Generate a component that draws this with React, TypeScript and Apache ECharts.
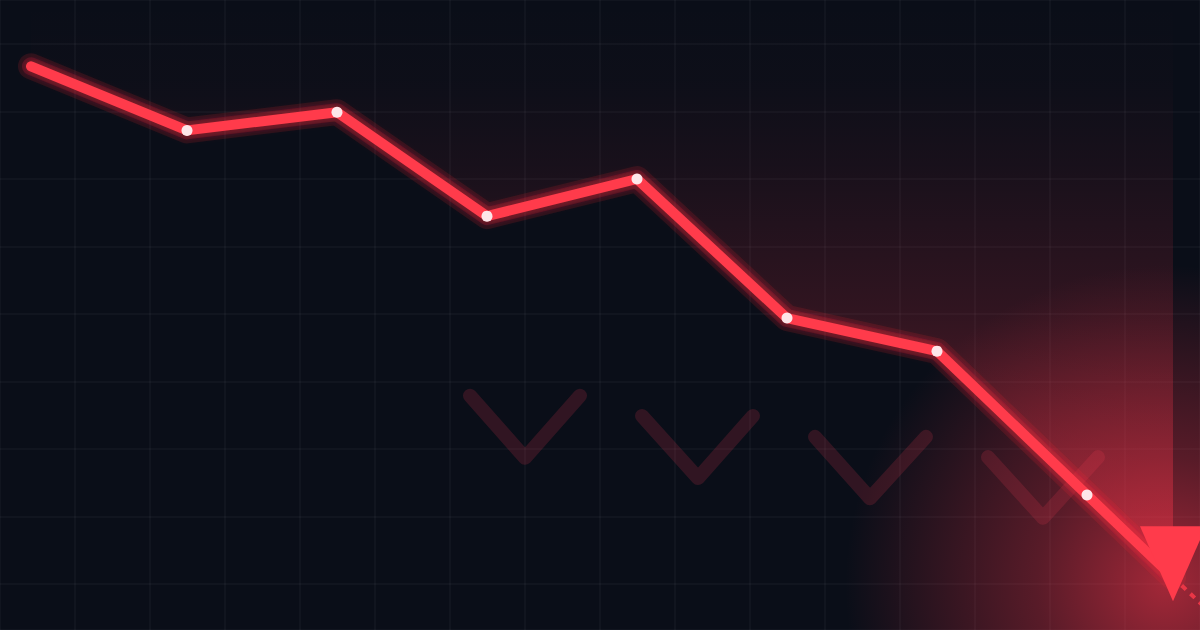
import React, { useEffect, useRef } from "react";
import * as echarts from "echarts";

// Data (x on a 0–1200 horizontal scale, y on a vertical value scale)
const lineX = [31, 187, 337, 487, 637, 787, 937, 1087, 1173];
const lineY = [86.7, 77.2, 79.9, 64.5, 70.0, 49.4, 44.5, 23.2, 11.0];
const arrowX = [1173];
const arrowY = [13.0];
const tailX = [1173, 1215];
const tailY = [11.0, 5.1];
const chevronX = [
  [470, 525, 580],
  [642, 698, 753],
  [815, 870, 926],
  [988, 1043, 1098],
];
const chevronY = [
  [37.9, 28.7, 37.9],
  [34.9, 25.7, 34.9],
  [31.8, 22.7, 31.8],
  [28.8, 19.8, 28.8],
];
const yMin = 3.185;
const yMax = 96.52;

const RED = "#ff3b4b";

export default function App() {
  const ref = useRef<HTMLDivElement>(null);
  useEffect(() => {
    document.body.style.margin = "0";
    document.body.style.background = "#0a0e18";
    const chart = echarts.init(ref.current!, null, { renderer: "svg" });
    const pts = lineX.map((x, i) => [x, lineY[i]]);
    const dots = pts.slice(1, 8);
    const chevronSeries = chevronX.map((xs, k) => ({
      type: "line",
      z: 2,
      silent: true,
      showSymbol: false,
      data: xs.map((x, i) => [x, chevronY[k][i]]),
      lineStyle: { width: 14, color: "rgba(255,60,85,0.16)", cap: "round", join: "round" },
    }));
    const gridLine = { show: true, lineStyle: { color: "rgba(255,255,255,0.045)", width: 1.5 } };
    chart.setOption({
      animation: false,
      backgroundColor: "#0a0e18",
      grid: { left: 0, right: 0, top: 0, bottom: 0, containLabel: false },
      xAxis: {
        type: "value",
        min: 0,
        max: 1200,
        interval: 75,
        axisLine: { show: false },
        axisTick: { show: false },
        axisLabel: { show: false },
        splitLine: gridLine,
      },
      yAxis: {
        type: "value",
        min: yMin,
        max: yMax,
        splitNumber: 9,
        axisLine: { show: false },
        axisTick: { show: false },
        axisLabel: { show: false },
        splitLine: gridLine,
      },
      graphic: [
        {
          type: "circle",
          z: 1,
          silent: true,
          shape: { cx: 1165, cy: 585, r: 320 },
          style: {
            fill: new echarts.graphic.RadialGradient(0.5, 0.5, 0.5, [
              { offset: 0, color: "rgba(255,55,75,0.62)" },
              { offset: 0.4, color: "rgba(255,55,75,0.32)" },
              { offset: 1, color: "rgba(255,55,75,0)" },
            ]),
          },
        },
      ],
      series: [
        {
          type: "line",
          z: 1,
          silent: true,
          showSymbol: false,
          data: pts,
          lineStyle: { width: 0, opacity: 0 },
          areaStyle: {
            origin: "end",
            color: new echarts.graphic.LinearGradient(0, 0, 0, 1, [
              { offset: 0, color: "rgba(255,55,75,0)" },
              { offset: 0.14, color: "rgba(255,55,75,0.02)" },
              { offset: 0.3, color: "rgba(255,55,75,0.09)" },
              { offset: 0.55, color: "rgba(255,55,75,0.23)" },
              { offset: 0.8, color: "rgba(255,55,75,0.47)" },
              { offset: 1, color: "rgba(255,55,75,0.6)" },
            ]),
          },
        },
        ...chevronSeries,
        {
          type: "line",
          z: 3,
          silent: true,
          showSymbol: false,
          data: pts,
          lineStyle: { width: 26, color: "rgba(255,45,65,0.13)", cap: "round", join: "round" },
        },
        {
          type: "line",
          z: 3,
          silent: true,
          showSymbol: false,
          data: pts,
          lineStyle: { width: 18, color: "rgba(255,45,65,0.17)", cap: "round", join: "round" },
        },
        {
          type: "line",
          z: 4,
          silent: true,
          showSymbol: false,
          data: tailX.map((x, i) => [x, tailY[i]]),
          lineStyle: { width: 4, color: RED, type: [6, 6], opacity: 0.8 },
        },
        {
          type: "line",
          z: 5,
          silent: true,
          showSymbol: false,
          data: pts,
          lineStyle: {
            width: 10,
            color: RED,
            cap: "round",
            join: "round",
            shadowBlur: 10,
            shadowColor: "rgba(255,40,60,0.45)",
          },
        },
        {
          type: "scatter",
          z: 6,
          silent: true,
          data: dots,
          symbol: "circle",
          symbolSize: 11,
          itemStyle: { color: "#fde6e9", opacity: 1 },
        },
        {
          type: "scatter",
          z: 7,
          silent: true,
          data: arrowX.map((x, i) => [x, arrowY[i]]),
          symbol: "triangle",
          symbolRotate: 180,
          symbolSize: [66, 75],
          itemStyle: { color: RED, opacity: 1 },
        },
      ],
    });
    return () => chart.dispose();
  }, []);
  return (
    <div
      ref={ref}
      style={{ position: "fixed", left: 0, top: 0, width: 1200, height: 630 }}
    />
  );
}
